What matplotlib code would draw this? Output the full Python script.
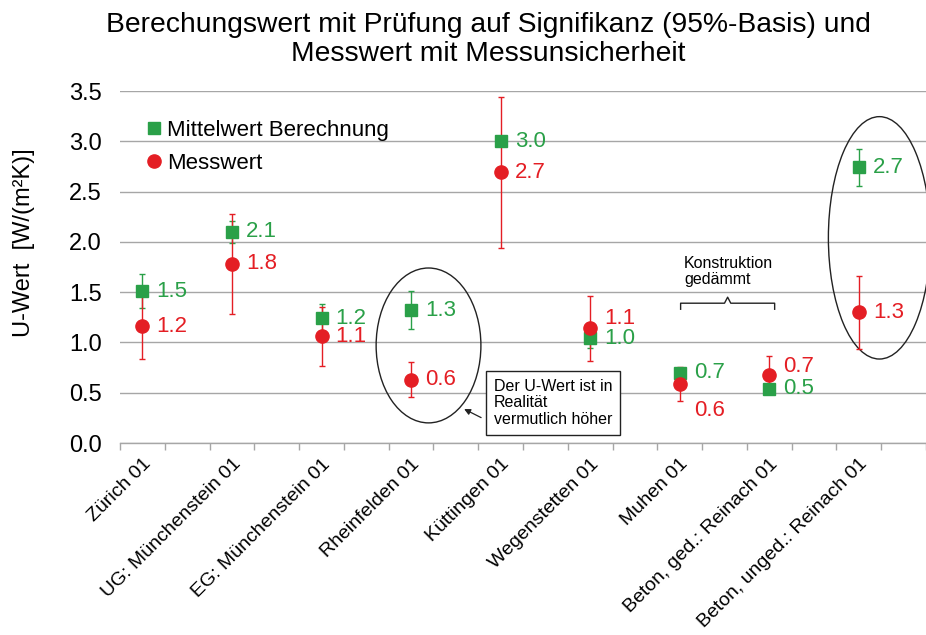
import numpy as np
import matplotlib.pyplot as plt
from matplotlib.patches import Ellipse

plt.rcParams['font.family'] = ['Liberation Sans', 'DejaVu Sans']

# Daten
standorte = ['Zürich 01', 'UG: Münchenstein 01', 'EG: Münchenstein 01', 'Rheinfelden 01',
             'Küttingen 01', 'Wegenstetten 01', 'Muhen 01', 'Beton, ged.: Reinach 01',
             'Beton, unged.: Reinach 01']
mittelwert = [1.51, 2.10, 1.24, 1.32, 3.00, 1.04, 0.70, 0.54, 2.74]
mittelwert_err = [0.17, 0.11, 0.14, 0.19, 0.02, 0.10, 0.05, 0.03, 0.18]
messwert = [1.16, 1.78, 1.06, 0.63, 2.69, 1.14, 0.59, 0.68, 1.30]
messwert_err = [0.32, 0.50, 0.29, 0.175, 0.75, 0.32, 0.17, 0.185, 0.365]
# vertikale Verschiebung der roten Beschriftungen (Pixel)
mess_label_dy = [0, 0, 0, 0, 0, 10, -27, 8, 0]

gruen = '#2aa048'
rot = '#e41e24'
grau = '#a6a6a6'

fig = plt.figure(figsize=(9.26, 6.35), dpi=100)
ax = fig.add_axes([120 / 926, 1 - 443 / 635, 806 / 926, 352 / 635])

x = np.arange(len(standorte)) * 2  # jede zweite Kategorie ist leer

ax.errorbar(x, mittelwert, yerr=mittelwert_err, fmt='none', ecolor=gruen,
            elinewidth=1.0, capsize=2.5, capthick=1.0, zorder=2)
ax.errorbar(x, messwert, yerr=messwert_err, fmt='none', ecolor=rot,
            elinewidth=1.0, capsize=2.5, capthick=1.0, zorder=2)
h1, = ax.plot(x, mittelwert, 's', color=gruen, markersize=8.5, linestyle='none', zorder=3,
              label='Mittelwert Berechnung')
h2, = ax.plot(x, messwert, 'o', color=rot, markersize=9.5, linestyle='none', zorder=4,
              label='Messwert')

for xi, v in zip(x, mittelwert):
    ax.annotate(f'{v:.1f}', (xi, v), xytext=(14, 0), textcoords='offset pixels',
                ha='left', va='center', color=gruen, fontsize=16)
for xi, v, dy in zip(x, messwert, mess_label_dy):
    ax.annotate(f'{v:.1f}', (xi, v), xytext=(14, dy), textcoords='offset pixels',
                ha='left', va='center', color=rot, fontsize=16)

ax.set_xlim(-0.5, 17.5)
ax.set_ylim(0, 3.5)
ax.set_yticks(np.arange(0, 3.51, 0.5))
ax.set_yticklabels([f'{t:.1f}' for t in np.arange(0, 3.51, 0.5)])
ax.tick_params(axis='y', length=0, pad=13, labelsize=17)
ax.grid(axis='y', color=grau, linewidth=1.0)
ax.set_axisbelow(True)

ax.set_xticks(x)
ax.set_xticklabels(standorte, rotation=45, ha='right', rotation_mode='anchor', fontsize=14)
ax.tick_params(axis='x', which='major', length=0, pad=9)
ax.set_xticks(np.arange(-0.5, 18, 1), minor=True)
ax.tick_params(axis='x', which='minor', length=5, color=grau, width=1.0)

for s in ['top', 'right', 'left']:
    ax.spines[s].set_visible(False)
ax.spines['bottom'].set_color(grau)
ax.spines['bottom'].set_linewidth(1.0)

ax.set_ylabel('U-Wert  [W/(m²K)]', fontsize=17)
ax.yaxis.set_label_coords(-0.105, 0.57)

fig.text(488 / 926, 1 - 12 / 635, 'Berechungswert mit Prüfung auf Signifikanz (95%-Basis) und\n'
         'Messwert mit Messunsicherheit', ha='center', va='top', fontsize=20.3, linespacing=1.13)

ax.legend(handles=[h1, h2], loc='upper left', bbox_to_anchor=(0.02, 0.95), frameon=False,
          fontsize=16, handlelength=0.6, handletextpad=0.3, labelspacing=0.55,
          borderpad=0)

# Markierungen
ax.add_patch(Ellipse((6.39, 0.97), 2.34, 1.54, fill=False, edgecolor='#222222', linewidth=1.0))
ax.add_patch(Ellipse((16.46, 2.04), 2.28, 2.41, fill=False, edgecolor='#222222', linewidth=1.0))

ax.annotate('', xy=(7.13, 0.35), xytext=(7.62, 0.24),
            arrowprops=dict(arrowstyle='-|>', color='#222222', lw=0.9, mutation_scale=9))
ax.text(7.85, 0.40, 'Der U-Wert ist in\nRealität\nvermutlich höher', ha='left', va='center',
        fontsize=11.5, linespacing=1.12,
        bbox=dict(boxstyle='square,pad=0.5', facecolor='white', edgecolor='#222222', linewidth=1.0))

ax.plot([12.02, 12.02, 13.0, 13.07, 13.14, 14.12, 14.12],
        [1.33, 1.39, 1.39, 1.45, 1.39, 1.39, 1.33], color='#222222', linewidth=1.0)
ax.text(12.1, 1.86, 'Konstruktion\ngedämmt', ha='left', va='top', fontsize=11.5, linespacing=1.1)

fig.savefig('out.png', dpi=100)
